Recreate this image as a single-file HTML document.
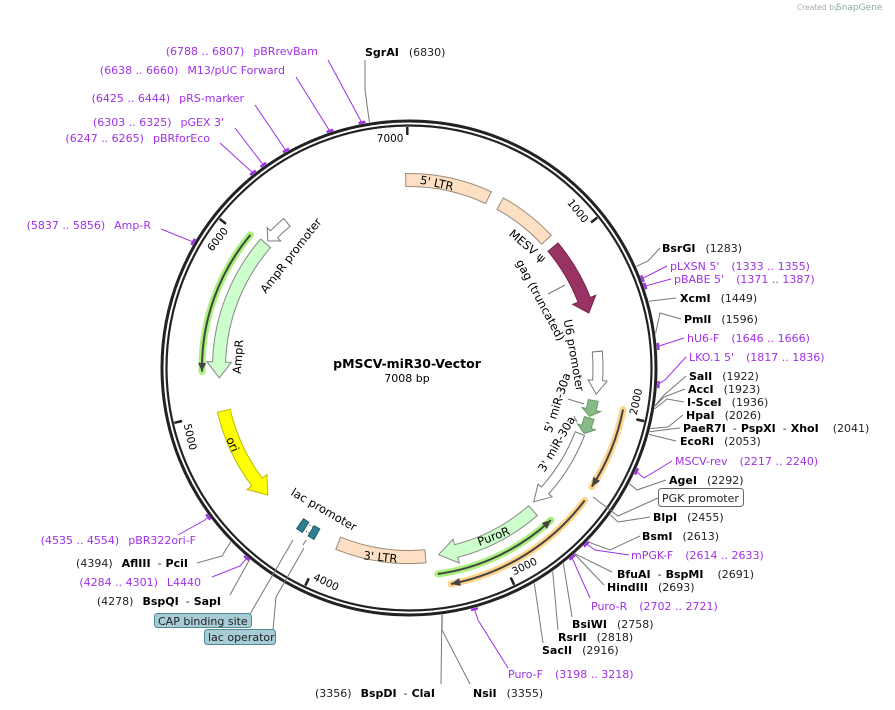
<!DOCTYPE html>
<html><head><meta charset="utf-8"><style>
html,body{margin:0;padding:0;background:#fff;width:895px;height:710px;overflow:hidden}
svg{display:block}
text{font-family:"DejaVu Sans","Liberation Sans",sans-serif;font-size:11px}
.b{font-weight:bold;fill:#000}
.n{fill:#222}
.p{fill:#a030e8}
.f{font-size:11.5px;fill:#000}
</style></head><body>
<svg id="s" width="895" height="710" viewBox="0 0 895 710" xmlns="http://www.w3.org/2000/svg">
<text x="797" y="10" style="font-size:7.5px;fill:#aaa">Created by</text><text x="836" y="10" style="font-size:9px;fill:#8aa">SnapGene</text>
<g id="feat"></g>
<circle cx="409" cy="368" r="247" fill="none" stroke="#222" stroke-width="3"/>
<circle cx="409" cy="368" r="242.5" fill="none" stroke="#222" stroke-width="2.2"/>
<g id="ticks"></g>
<g id="lines" fill="none" stroke-width="1"></g>

<text x="407" y="368" text-anchor="middle" style="font-weight:bold;font-size:12.5px">pMSCV-miR30-Vector</text>
<text x="407" y="382" text-anchor="middle" style="font-size:11px">7008 bp</text>

<text class="f" transform="translate(436,187) rotate(12)" text-anchor="middle">5' LTR</text>
<text class="f" transform="translate(525,249) rotate(40)" text-anchor="middle">MESV ψ</text>
<text class="f" transform="translate(537,302) rotate(62)" text-anchor="middle">gag (truncated)</text>
<text class="f" transform="translate(570,356) rotate(80)" text-anchor="middle">U6 promoter</text>
<text class="f" transform="translate(561,404) rotate(-72)" text-anchor="middle">5' miR-30a</text>
<text class="f" transform="translate(560,446) rotate(-60)" text-anchor="middle">3' miR-30a</text>
<text class="f" transform="translate(495,540) rotate(-21)" text-anchor="middle">PuroR</text>
<text class="f" transform="translate(380,561) rotate(6)" text-anchor="middle">3' LTR</text>
<text class="f" transform="translate(322,513) rotate(30)" text-anchor="middle">lac promoter</text>
<text class="f" transform="translate(229,446) rotate(66)" text-anchor="middle">ori</text>
<text class="f" transform="translate(242,357) rotate(-86)" text-anchor="middle">AmpR</text>
<text class="f" transform="translate(294,258) rotate(-52)" text-anchor="middle">AmpR promoter</text>

<text x="365" y="56"><tspan class="b">SgrAI</tspan><tspan class="n" dx="10">(6830)</tspan></text>
<text x="662" y="252"><tspan class="b">BsrGI</tspan><tspan class="n" dx="10">(1283)</tspan></text>
<text x="670" y="270" class="p">pLXSN 5'<tspan dx="12">(1333 .. 1355)</tspan></text>
<text x="674" y="283" class="p">pBABE 5'<tspan dx="12">(1371 .. 1387)</tspan></text>
<text x="680" y="302"><tspan class="b">XcmI</tspan><tspan class="n" dx="10">(1449)</tspan></text>
<text x="684" y="323"><tspan class="b">PmlI</tspan><tspan class="n" dx="10">(1596)</tspan></text>
<text x="687" y="342" class="p">hU6-F<tspan dx="12">(1646 .. 1666)</tspan></text>
<text x="689" y="361" class="p">LKO.1 5'<tspan dx="12">(1817 .. 1836)</tspan></text>
<text x="689" y="380"><tspan class="b">SalI</tspan><tspan class="n" dx="10">(1922)</tspan></text>
<text x="688" y="393"><tspan class="b">AccI</tspan><tspan class="n" dx="10">(1923)</tspan></text>
<text x="687" y="406"><tspan class="b">I-SceI</tspan><tspan class="n" dx="10">(1936)</tspan></text>
<text x="686" y="419"><tspan class="b">HpaI</tspan><tspan class="n" dx="10">(2026)</tspan></text>
<text x="683" y="432"><tspan class="b">PaeR7I</tspan><tspan class="n" dx="7">-</tspan><tspan class="b" dx="4">PspXI</tspan><tspan class="n" dx="7">-</tspan><tspan class="b" dx="4">XhoI</tspan><tspan class="n" dx="14">(2041)</tspan></text>
<text x="680" y="445"><tspan class="b">EcoRI</tspan><tspan class="n" dx="10">(2053)</tspan></text>
<text x="675" y="465" class="p">MSCV-rev<tspan dx="12">(2217 .. 2240)</tspan></text>
<text x="669" y="484"><tspan class="b">AgeI</tspan><tspan class="n" dx="10">(2292)</tspan></text>
<rect x="658.5" y="488.5" width="85" height="18" rx="3" fill="#fff" stroke="#666"/>
<text x="662" y="502" class="n">PGK promoter</text>
<text x="653" y="521"><tspan class="b">BlpI</tspan><tspan class="n" dx="10">(2455)</tspan></text>
<text x="642" y="540"><tspan class="b">BsmI</tspan><tspan class="n" dx="10">(2613)</tspan></text>
<text x="631" y="559" class="p">mPGK-F<tspan dx="12">(2614 .. 2633)</tspan></text>
<text x="617" y="578"><tspan class="b">BfuAI</tspan><tspan class="n" dx="7">-</tspan><tspan class="b" dx="4">BspMI</tspan><tspan class="n" dx="14">(2691)</tspan></text>
<text x="607" y="591"><tspan class="b">HindIII</tspan><tspan class="n" dx="10">(2693)</tspan></text>
<text x="591" y="610" class="p">Puro-R<tspan dx="12">(2702 .. 2721)</tspan></text>
<text x="572" y="628"><tspan class="b">BsiWI</tspan><tspan class="n" dx="10">(2758)</tspan></text>
<text x="558" y="641"><tspan class="b">RsrII</tspan><tspan class="n" dx="10">(2818)</tspan></text>
<text x="542" y="654"><tspan class="b">SacII</tspan><tspan class="n" dx="10">(2916)</tspan></text>
<text x="508" y="678" class="p">Puro-F<tspan dx="12">(3198 .. 3218)</tspan></text>
<text x="473" y="697"><tspan class="b">NsiI</tspan><tspan class="n" dx="10">(3355)</tspan></text>
<text x="315" y="697"><tspan class="n">(3356)</tspan><tspan class="b" dx="9">BspDI</tspan><tspan class="n" dx="7">-</tspan><tspan class="b" dx="4">ClaI</tspan></text>

<text x="318" y="55" class="p" text-anchor="end">(6788 .. 6807)<tspan dx="9">pBRrevBam</tspan></text>
<text x="285" y="74" class="p" text-anchor="end">(6638 .. 6660)<tspan dx="9">M13/pUC Forward</tspan></text>
<text x="244" y="102" class="p" text-anchor="end">(6425 .. 6444)<tspan dx="9">pRS-marker</tspan></text>
<text x="224" y="126" class="p" text-anchor="end">(6303 .. 6325)<tspan dx="9">pGEX 3'</tspan></text>
<text x="210" y="142" class="p" text-anchor="end">(6247 .. 6265)<tspan dx="9">pBRforEco</tspan></text>
<text x="151" y="229" class="p" text-anchor="end">(5837 .. 5856)<tspan dx="9">Amp-R</tspan></text>
<text x="196" y="544" class="p" text-anchor="end">(4535 .. 4554)<tspan dx="9">pBR322ori-F</tspan></text>
<text x="188" y="567" text-anchor="end"><tspan class="n">(4394)</tspan><tspan class="b" dx="9">AflIII</tspan><tspan class="n" dx="7">-</tspan><tspan class="b" dx="4">PciI</tspan></text>
<text x="201" y="586" class="p" text-anchor="end">(4284 .. 4301)<tspan dx="9">L4440</tspan></text>
<text x="221" y="605" text-anchor="end"><tspan class="n">(4278)</tspan><tspan class="b" dx="9">BspQI</tspan><tspan class="n" dx="7">-</tspan><tspan class="b" dx="4">SapI</tspan></text>
<rect x="154.5" y="613.5" width="97" height="14" rx="3" fill="#a8ccd6" stroke="#4f8a96"/>
<text x="158" y="625" class="n">CAP binding site</text>
<rect x="204.5" y="629.5" width="71" height="15" rx="3" fill="#a8ccd6" stroke="#4f8a96"/>
<text x="208" y="641" class="n">lac operator</text>
</svg>
<script>
var cx=409,cy=368,NS="http://www.w3.org/2000/svg";
function P(a,r){var t=a*Math.PI/180;return [cx+r*Math.sin(t),cy-r*Math.cos(t)];}
function f(p){return p[0].toFixed(1)+","+p[1].toFixed(1);}
function el(parent,tag,attrs){var e=document.createElementNS(NS,tag);for(var k in attrs)e.setAttribute(k,attrs[k]);document.getElementById(parent).appendChild(e);return e;}
function arc(a1,a2,r){var sw=a2>a1?1:0,la=Math.abs(a2-a1)>180?1:0;return "A"+r+","+r+" 0 "+la+" "+sw+" "+f(P(a2,r));}
function band(a1,a2,r,w,dir,head,fill,stroke){
 var ro=r+w/2,ri=r-w/2,h=head/r*180/Math.PI,ext=w*0.45,d;
 if(dir==0){d="M"+f(P(a1,ro))+arc(a1,a2,ro)+"L"+f(P(a2,ri))+arc(a2,a1,ri)+"Z";}
 else if(dir==1){var b=a2-h;d="M"+f(P(a1,ro))+arc(a1,b,ro)+"L"+f(P(b,ro+ext))+"L"+f(P(a2,r))+"L"+f(P(b,ri-ext))+"L"+f(P(b,ri))+arc(b,a1,ri)+"Z";}
 else {var b=a1+h;d="M"+f(P(a2,ro))+arc(a2,b,ro)+"L"+f(P(b,ro+ext))+"L"+f(P(a1,r))+"L"+f(P(b,ri-ext))+"L"+f(P(b,ri))+arc(b,a2,ri)+"Z";}
 el("feat","path",{d:d,fill:fill,stroke:stroke,"stroke-width":1});
}
function line(a1,a2,r,dir,glow){
 var d="M"+f(P(a1,r))+arc(a1,a2,r);
 el("feat","path",{d:d,fill:"none",stroke:glow,"stroke-width":7,"stroke-linecap":"round","opacity":0.85});
 el("feat","path",{d:d,fill:"none",stroke:"#444","stroke-width":2});
 var tip=dir==1?a2:a1,back=dir==1?a2-2.4:a1+2.4;
 el("feat","path",{d:"M"+f(P(back,r+4))+"L"+f(P(tip,r))+"L"+f(P(back,r-4))+"Z",fill:"#444"});
}
function bp(p){return p/7008*360;}
band(-1,25,188,13,0,0,"#fde0c4","#9a8a78");
band(29,47,188,13,0,0,"#fde0c4","#9a8a78");
band(50,73,188,13,1,14,"#993366","#772244");
band(85,98,189,10,1,14,"#ffffff","#777");
band(100,105,187,10,1,7,"#88bb88","#6a9a6a");
band(105.5,110.5,187,10,1,7,"#88bb88","#6a9a6a");
band(111,137,183,10,1,16,"#ffffff","#777");
band(139,171,189,13,1,18,"#ccffcc","#888");
band(175,202,189,13,0,0,"#fde0c4","#9a8a78");
band(228,257,190,13,-1,17,"#ffff00","#bbbb00");
band(267,311,190,13,-1,16,"#ccffcc","#888");
band(312,320,190,10,-1,9,"#ffffff","#777");
(function(){
 el("feat","path",{d:"M"+f(P(209,184))+"L"+f(P(209,196))+"L"+f(P(211,196))+"L"+f(P(211,184))+"Z",fill:"#2f7f8f",stroke:"#1f5f6f"});
 el("feat","path",{d:"M"+f(P(213,184))+"L"+f(P(213,196))+"L"+f(P(215,196))+"L"+f(P(215,184))+"Z",fill:"#2f7f8f",stroke:"#1f5f6f"});
 el("feat","path",{d:"M"+f(P(211,186))+"L"+f(P(213,186))+"M"+f(P(211,193))+"L"+f(P(213,193)),stroke:"#555","stroke-dasharray":"1.5,1.5",fill:"none"});})();
line(269,310,207,-1,"#99ee66");
line(137,172,208,-1,"#99ee66");
line(101,123,218,1,"#ffcc77");
line(127,169,220,1,"#ffcc77");
[1000,2000,3000,4000,5000,6000,7000].forEach(function(v){var a=bp(v);
 el("ticks","path",{d:"M"+f(P(a,241))+"L"+f(P(a,233)),stroke:"#222","stroke-width":2.5});
 var rot=(a>90&&a<270)?a-180:a;var q=P(a-4.3,230);
 var t=el("ticks","text",{transform:"translate("+f(q)+") rotate("+rot.toFixed(1)+")","text-anchor":"middle","dominant-baseline":"middle",style:"font-size:10.5px;fill:#000"});t.textContent=v;});
function lead(pos,pts,col,tick){var s=P(bp(pos),249);var d="M"+f(s);pts.forEach(function(p){d+="L"+p[0]+","+p[1];});
 el("lines","path",{d:d,stroke:col});
 if(tick){var a=bp(pos);el("lines","path",{d:"M"+f(P(a-0.8,250))+"L"+f(P(a+0.8,250)),stroke:col,"stroke-width":2.5});}}
var G="#777",V="#a030e8";
lead(6830,[[365,90],[365,60]],G);
lead(6797,[[328,60]],V,1);
lead(6649,[[296,77]],V,1);
lead(6434,[[255,105]],V,1);
lead(6314,[[235,128]],V,1);
lead(6256,[[220,143]],V,1);
lead(5846,[[161,229]],V,1);
lead(4544,[[205,520],[178,535]],V,1);
lead(4394,[[222,556],[197,563]],G);
lead(4292,[[240,566],[212,577]],V,1);
lead(4278,[[230,595]],G);
lead(1283,[[648,261],[660,248]],G);
lead(1344,[[667,266]],V,1);
lead(1379,[[671,279]],V,1);
lead(1449,[[676,298]],G);
lead(1596,[[660,313],[681,319]],G);
lead(1656,[[684,338]],V,1);
lead(1826,[[665,380],[686,357]],V,1);
lead(1922,[[663,396],[686,376]],G);
lead(1923,[[664,397],[685,389]],G);
lead(1936,[[667,399],[684,402]],G);
lead(2026,[[668,427],[683,415]],G);
lead(2041,[[671,429],[680,428]],G);
lead(2053,[[676,441]],G);
lead(2228,[[644,478],[672,461]],V,1);
lead(2292,[[637,490],[666,480]],G);
lead(2455,[[618,522],[650,517]],G);
lead(2613,[[610,550],[640,536]],G);
lead(2624,[[595,550],[629,555]],V,1);
lead(2691,[[612,572]],G);
lead(2693,[[604,585]],G);
lead(2711,[[590,598]],V,1);
lead(2758,[[572,617]],G);
lead(2818,[[558,630]],G);
lead(2916,[[543,643]],G);
lead(3208,[[478,620],[508,668]],V,1);
lead(3355,[[442,630],[470,684]],G);
lead(3356,[[441,684]],G);
el("lines","path",{d:"M658,498 L618,516 L593,497",stroke:G});
el("lines","path",{d:"M250,614 L293,540",stroke:G});
el("lines","path",{d:"M273,630 L276,597 L304,548",stroke:G});
el("lines","path",{d:"M548,294 L565,285",stroke:G});
el("lines","path",{d:"M568,399 L584,404",stroke:G});
el("lines","path",{d:"M577,422 L574,416",stroke:G});
el("lines","path",{d:"M303,545 L306,540",stroke:G});
</script>
</body></html>
